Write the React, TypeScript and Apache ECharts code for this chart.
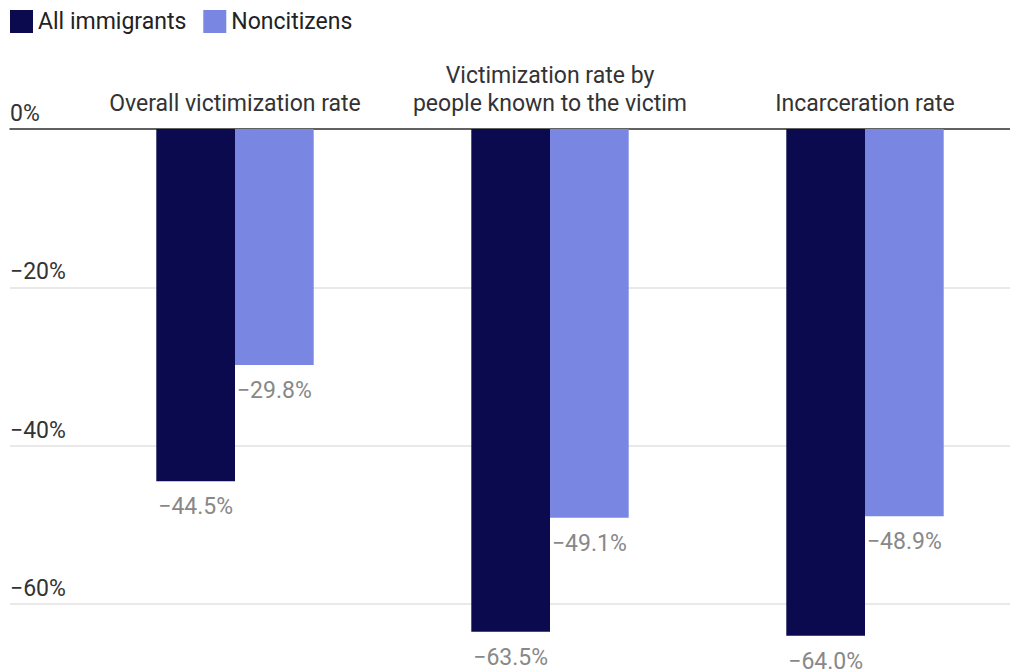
import React, { useEffect, useRef } from "react";
import * as echarts from "echarts";

// Change relative to US-born citizens, by measure
const categories = [
  "Overall victimization rate",
  "Victimization rate by\npeople known to the victim",
  "Incarceration rate",
];
const allImmigrants = [-44.5, -63.5, -64.0];
const noncitizens = [-29.8, -49.1, -48.9];
const seriesNames = ["All immigrants", "Noncitizens"];
const yTicks = { min: -60, max: 0, interval: 20 };

const DARK = "#0b0a4f";
const LIGHT = "#7987e3";
const FONT = "Roboto, 'Liberation Sans', sans-serif";
const FS = 23;

const fmtPct = (v: number, digits: number) =>
  (v < 0 ? "\u2212" : "") + Math.abs(v).toFixed(digits) + "%";

export default function App() {
  const ref = useRef<HTMLDivElement>(null);

  useEffect(() => {
    if (!ref.current) return;
    const chart = echarts.init(ref.current, undefined, { renderer: "svg" });

    const valueLabel = {
      show: true,
      position: "bottom" as const,
      distance: 14,
      color: "#888888",
      fontSize: FS,
      lineHeight: FS,
      fontFamily: FONT,
      formatter: (p: any) => fmtPct(p.value, 1),
    };

    chart.setOption({
      animation: false,
      textStyle: { fontFamily: FONT },
      legend: {
        left: 10,
        top: 10,
        padding: 0,
        itemWidth: 23,
        itemHeight: 23,
        itemGap: 17,
        icon: "rect",
        textStyle: { fontSize: FS, color: "#222", fontFamily: FONT },
        data: seriesNames,
      },
      grid: [
        // full-width grid carrying the gridlines, y labels and the zero line
        { left: 10, width: 1000, top: 129, height: 475, containLabel: false },
        // grid carrying the bars and category labels
        { left: 77.5, width: 945, top: 129, height: 475, containLabel: false },
      ],
      xAxis: [
        {
          gridIndex: 0,
          type: "value",
          min: 0,
          max: 1,
          position: "top",
          axisLine: { show: true, onZero: false, lineStyle: { color: "#333", width: 1.5 } },
          axisTick: { show: false },
          axisLabel: { show: false },
          splitLine: { show: false },
        },
        {
          gridIndex: 1,
          type: "category",
          data: categories,
          position: "top",
          axisLine: { show: false },
          axisTick: { show: false },
          axisLabel: {
            interval: 0,
            margin: 12,
            fontSize: FS,
            lineHeight: 27.5,
            color: "#333",
            fontFamily: FONT,
            verticalAlign: "bottom",
          },
        },
      ],
      yAxis: [
        {
          gridIndex: 0,
          type: "value",
          min: yTicks.min,
          max: yTicks.max,
          interval: yTicks.interval,
          axisLine: { show: false },
          axisTick: { show: false },
          axisLabel: {
            inside: true,
            margin: 0,
            align: "left",
            verticalAlign: "bottom",
            lineHeight: FS,
            padding: [0, 0, 4, 0],
            fontSize: FS,
            color: "#333",
            fontFamily: FONT,
            formatter: (v: number) => fmtPct(v, 0),
          },
          splitLine: { show: true, lineStyle: { color: "#e2e2e2", width: 1.5 } },
        },
        {
          gridIndex: 1,
          type: "value",
          min: yTicks.min,
          max: yTicks.max,
          interval: yTicks.interval,
          show: false,
          splitLine: { show: false },
        },
      ],
      series: [
        {
          name: seriesNames[0],
          type: "bar",
          xAxisIndex: 1,
          yAxisIndex: 1,
          data: allImmigrants,
          barWidth: 78.7,
          barGap: "0%",
          clip: false,
          itemStyle: { color: DARK },
          label: valueLabel,
        },
        {
          name: seriesNames[1],
          type: "bar",
          xAxisIndex: 1,
          yAxisIndex: 1,
          data: noncitizens,
          barWidth: 78.7,
          barGap: "0%",
          clip: false,
          itemStyle: { color: LIGHT },
          label: valueLabel,
        },
      ],
    });

    return () => chart.dispose();
  }, []);

  return (
    <div
      style={{
        position: "absolute",
        left: 0,
        top: 0,
        width: 1010,
        height: 669,
        overflow: "hidden",
        background: "#fff",
      }}
    >
      <div ref={ref} style={{ width: 1040, height: 669 }} />
    </div>
  );
}
